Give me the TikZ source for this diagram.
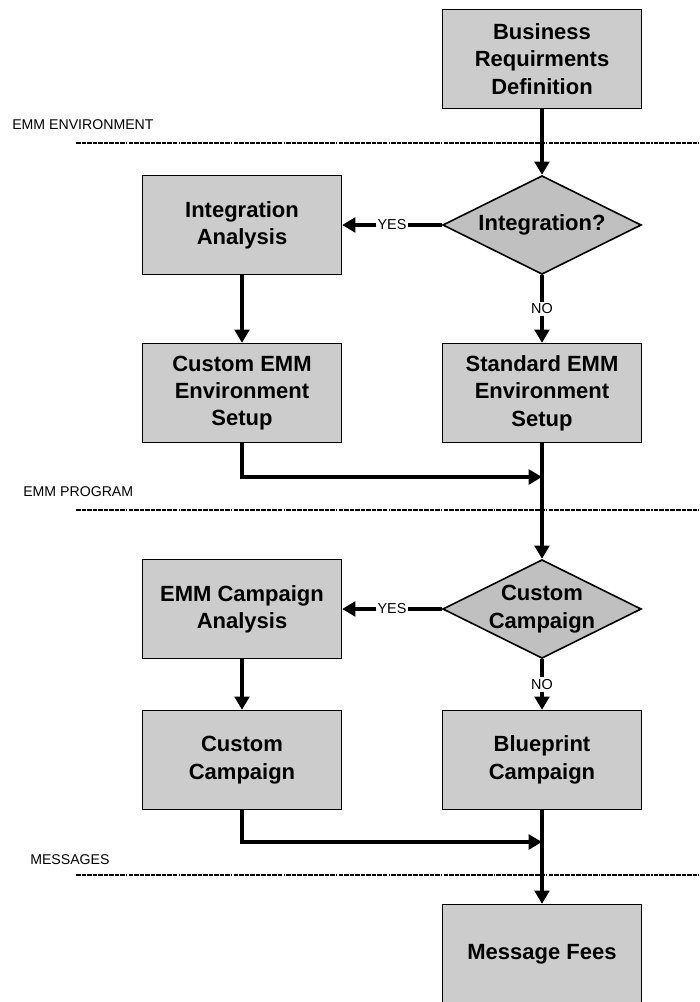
\documentclass[tikz,border=0pt]{standalone}
\usepackage{fontspec}
\setmainfont{Liberation Sans}
\usetikzlibrary{arrows.meta,shapes.geometric}
\definecolor{boxgray}{HTML}{CCCCCC}
\definecolor{diagray}{HTML}{C0C0C0}
\begin{document}
\begin{tikzpicture}[x=0.75pt,y=-0.75pt,
  box/.style={draw=black, line width=1.2pt, fill=boxgray,
    minimum width=149pt, minimum height=74pt, inner sep=0pt, align=center,
    font=\bfseries\fontsize{16.5}{20.5}\selectfont},
  dia/.style={diamond, draw=black, line width=1.2pt, fill=diagray,
    minimum width=149pt, minimum height=74pt, inner sep=0pt},
  diatext/.style={align=center, inner sep=0pt,
    font=\bfseries\fontsize{16.5}{20.5}\selectfont},
  flow/.style={line width=2.8pt, -{Triangle[length=10pt,width=11pt]}},
  lbl/.style={font=\fontsize{10.8}{13}\selectfont, fill=white, inner sep=1.5pt},
  sec/.style={font=\fontsize{10.6}{13}\selectfont, anchor=west, inner sep=0pt},
  sepline/.style={line width=0.8pt, dash pattern={on 3.4pt off 0.75pt on 3.4pt off 0.75pt
    on 3.4pt off 0.75pt on 3.4pt off 0.75pt on 3.4pt off 0.75pt on 3.4pt off 0.75pt
    on 3.4pt off 0.75pt on 3.4pt off 0.75pt on 3.4pt off 1pt on 0.8pt off 1pt}}
]
\useasboundingbox (0,0) rectangle (699,1002);

% phase separators
\node[sec] (lenv) at (12,125) {EMM ENVIRONMENT};
\node[sec] (lprog) at (23,492) {EMM PROGRAM};
\node[sec] (lmsg) at (30,860) {MESSAGES};
\coordinate (s1a) at (76,143); \coordinate (s1b) at (699,143);
\coordinate (s2a) at (76,510); \coordinate (s2b) at (699,510);
\coordinate (s3a) at (76,875); \coordinate (s3b) at (699,875);
\draw[sepline] (s1a) -- (s1b);
\draw[sepline] (s2a) -- (s2b);
\draw[sepline] (s3a) -- (s3b);

% process steps
\node[box] (brd) at (542,59) {Business\\Requirments\\Definition};
\node[dia] (d1) at (542,225) {};
\node[diatext] (d1t) at (d1.center) {Integration?};
\node[box] (ia) at (242,225) {Integration\\Analysis};
\node[box] (cees) at (242,393) {Custom EMM\\Environment\\Setup};
\node[box] (sees) at (542,393) {Standard EMM\\Environment\\Setup};
\node[dia] (d2) at (542,609) {};
\node[diatext] (d2t) at (d2.center) {Custom\\Campaign};
\node[box] (eca) at (242,609) {EMM Campaign\\Analysis};
\node[box] (cc) at (242,760) {Custom\\Campaign};
\node[box] (bc) at (542,760) {Blueprint\\Campaign};
\node[box] (mf) at (542,954) {Message Fees};

\coordinate (m1) at (542,477);
\coordinate (m2) at (542,842);

% connectors
\draw[flow] (brd.south) -- (d1.north);
\draw[flow] (d1.west) -- node[lbl] {YES} (ia.east);
\draw[flow] (ia.south) -- (cees.north);
\draw[flow] (d1.south) -- node[lbl] {NO} (sees.north);
\draw[flow] (cees.south) |- (m1);
\draw[flow] (sees.south) -- (d2.north);
\draw[flow] (d2.west) -- node[lbl] {YES} (eca.east);
\draw[flow] (eca.south) -- (cc.north);
\draw[flow] (d2.south) -- node[lbl] {NO} (bc.north);
\draw[flow] (cc.south) |- (m2);
\draw[flow] (bc.south) -- (mf.north);
\end{tikzpicture}
\end{document}
